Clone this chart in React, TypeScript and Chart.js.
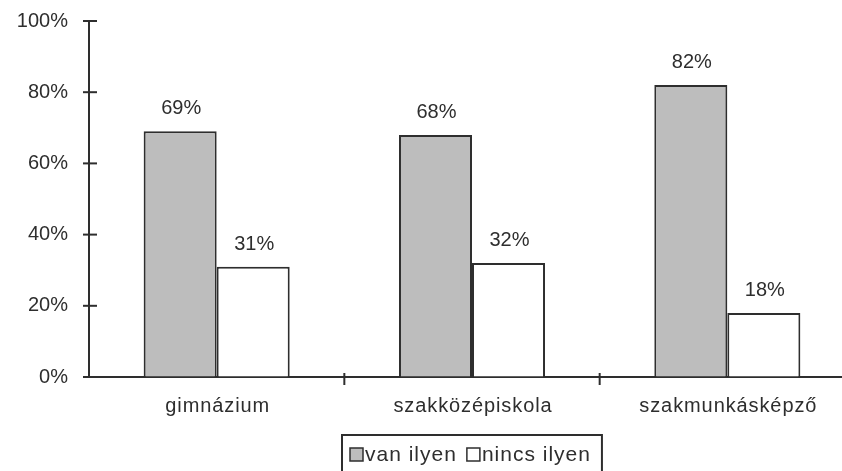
import React, { useEffect, useRef } from "react";
import { Chart, registerables } from "chart.js";

Chart.register(...registerables);

const categories = ["gimnázium", "szakközépiskola", "szakmunkásképző"];
const vanIlyen = [69, 68, 82];
const nincsIlyen = [31, 32, 18];
const seriesLabels = ["van ilyen", "nincs ilyen"];
const yMin = 0;
const yMax = 100;
const yStep = 20;

const FONT = '"Liberation Sans", Arial, sans-serif';
const INK = "#2e2e2e";
const GREY = "#bdbdbd";
const WHITE = "#ffffff";

const decor = {
  id: "decor",
  afterDraw(chart: any) {
    const ctx: any = chart.ctx;
    const { left, bottom } = chart.chartArea;
    const xs = chart.scales.x;
    const ys = chart.scales.y;
    const line = (x1: number, y1: number, x2: number, y2: number) => {
      ctx.beginPath();
      ctx.moveTo(x1, y1);
      ctx.lineTo(x2, y2);
      ctx.stroke();
    };
    ctx.save();
    ctx.strokeStyle = INK;
    ctx.lineWidth = 2;
    // y-axis tick marks crossing the axis
    ys.ticks.forEach((t: any) => {
      const py = ys.getPixelForValue(t.value);
      line(left - 6, py, left + 8, py);
    });
    // x-axis tick marks between categories
    for (let i = 1; i < categories.length; i++) {
      const px = (xs.getPixelForValue(i - 1) + xs.getPixelForValue(i)) / 2;
      line(px, bottom - 4, px, bottom + 8);
    }
    // data labels
    ctx.fillStyle = INK;
    ctx.font = `20px ${FONT}`;
    ctx.textAlign = "center";
    ctx.textBaseline = "alphabetic";
    ctx.letterSpacing = "0px";
    chart.data.datasets.forEach((ds: any, di: number) => {
      const meta = chart.getDatasetMeta(di);
      meta.data.forEach((el: any, i: number) => {
        ctx.fillText(ds.data[i] + "%", el.x + 1, el.y - 17);
      });
    });
    // category labels
    ctx.letterSpacing = "0.9px";
    categories.forEach((c, i) => {
      ctx.fillText(c, xs.getPixelForValue(i) + 1, bottom + 35);
    });
    // legend
    ctx.font = `21px ${FONT}`;
    ctx.letterSpacing = "1px";
    ctx.textAlign = "left";
    const sq = 13;
    const w1 = ctx.measureText(chart.data.datasets[0].label).width;
    const w2 = ctx.measureText(chart.data.datasets[1].label).width;
    const padL = 8;
    const padR = 11;
    const gapSq = 2;
    const gapItem = 10;
    const total = padL + sq + gapSq + w1 + gapItem + sq + gapSq + w2 + padR;
    const cx = (chart.chartArea.left + chart.chartArea.right) / 2;
    const bx = Math.round(cx - total / 2);
    const by = bottom + 58;
    ctx.lineWidth = 2;
    ctx.strokeRect(bx, by, total, 80);
    let x = bx + padL;
    const sqTop = bottom + 71;
    const base = bottom + 84;
    chart.data.datasets.forEach((ds: any, di: number) => {
      ctx.fillStyle = ds.backgroundColor;
      ctx.fillRect(x, sqTop, sq, sq);
      ctx.lineWidth = 1.5;
      ctx.strokeRect(x, sqTop, sq, sq);
      x += sq + gapSq;
      ctx.fillStyle = INK;
      ctx.fillText(ds.label, x, base);
      x += (di === 0 ? w1 : w2) + gapItem;
    });
    ctx.restore();
  },
};

export default function App() {
  const ref = useRef<HTMLCanvasElement | null>(null);
  useEffect(() => {
    if (!ref.current) return;
    const chart = new Chart(ref.current, {
      type: "bar",
      data: {
        labels: categories,
        datasets: [
          {
            label: seriesLabels[0],
            data: vanIlyen,
            backgroundColor: GREY,
            borderColor: INK,
            borderWidth: 2,
            categoryPercentage: 0.572,
            barPercentage: 1,
          },
          {
            label: seriesLabels[1],
            data: nincsIlyen,
            backgroundColor: WHITE,
            borderColor: INK,
            borderWidth: 2,
            categoryPercentage: 0.572,
            barPercentage: 1,
          },
        ],
      },
      options: {
        responsive: false,
        animation: false,
        devicePixelRatio: 1,
        layout: { padding: { top: 21, right: 5, bottom: 0, left: 0 } },
        plugins: {
          legend: { display: false },
          tooltip: { enabled: false },
          title: { display: false },
        },
        scales: {
          x: {
            offset: true,
            grid: { display: true, drawOnChartArea: false, drawTicks: false },
            border: { color: INK, width: 2 },
            ticks: { display: false },
            afterFit: (s: any) => {
              s.height = 94;
            },
          },
          y: {
            min: yMin,
            max: yMax,
            grid: { display: true, drawOnChartArea: false, drawTicks: false },
            border: { color: INK, width: 2 },
            ticks: {
              stepSize: yStep,
              padding: 21,
              color: INK,
              font: { family: FONT, size: 20 },
              callback: (v: any) => v + "%",
            },
            afterFit: (s: any) => {
              s.width = 89;
              s.paddingTop = 0;
              s.paddingBottom = 0;
            },
          },
        },
      },
      plugins: [decor],
    });
    return () => chart.destroy();
  }, []);
  return (
    <div
      style={{
        position: "fixed",
        left: 0,
        top: 0,
        width: 842,
        height: 471,
        overflow: "hidden",
        background: "#fff",
      }}
    >
      <canvas ref={ref} width={860} height={471} style={{ display: "block", width: 860, height: 471 }} />
    </div>
  );
}
